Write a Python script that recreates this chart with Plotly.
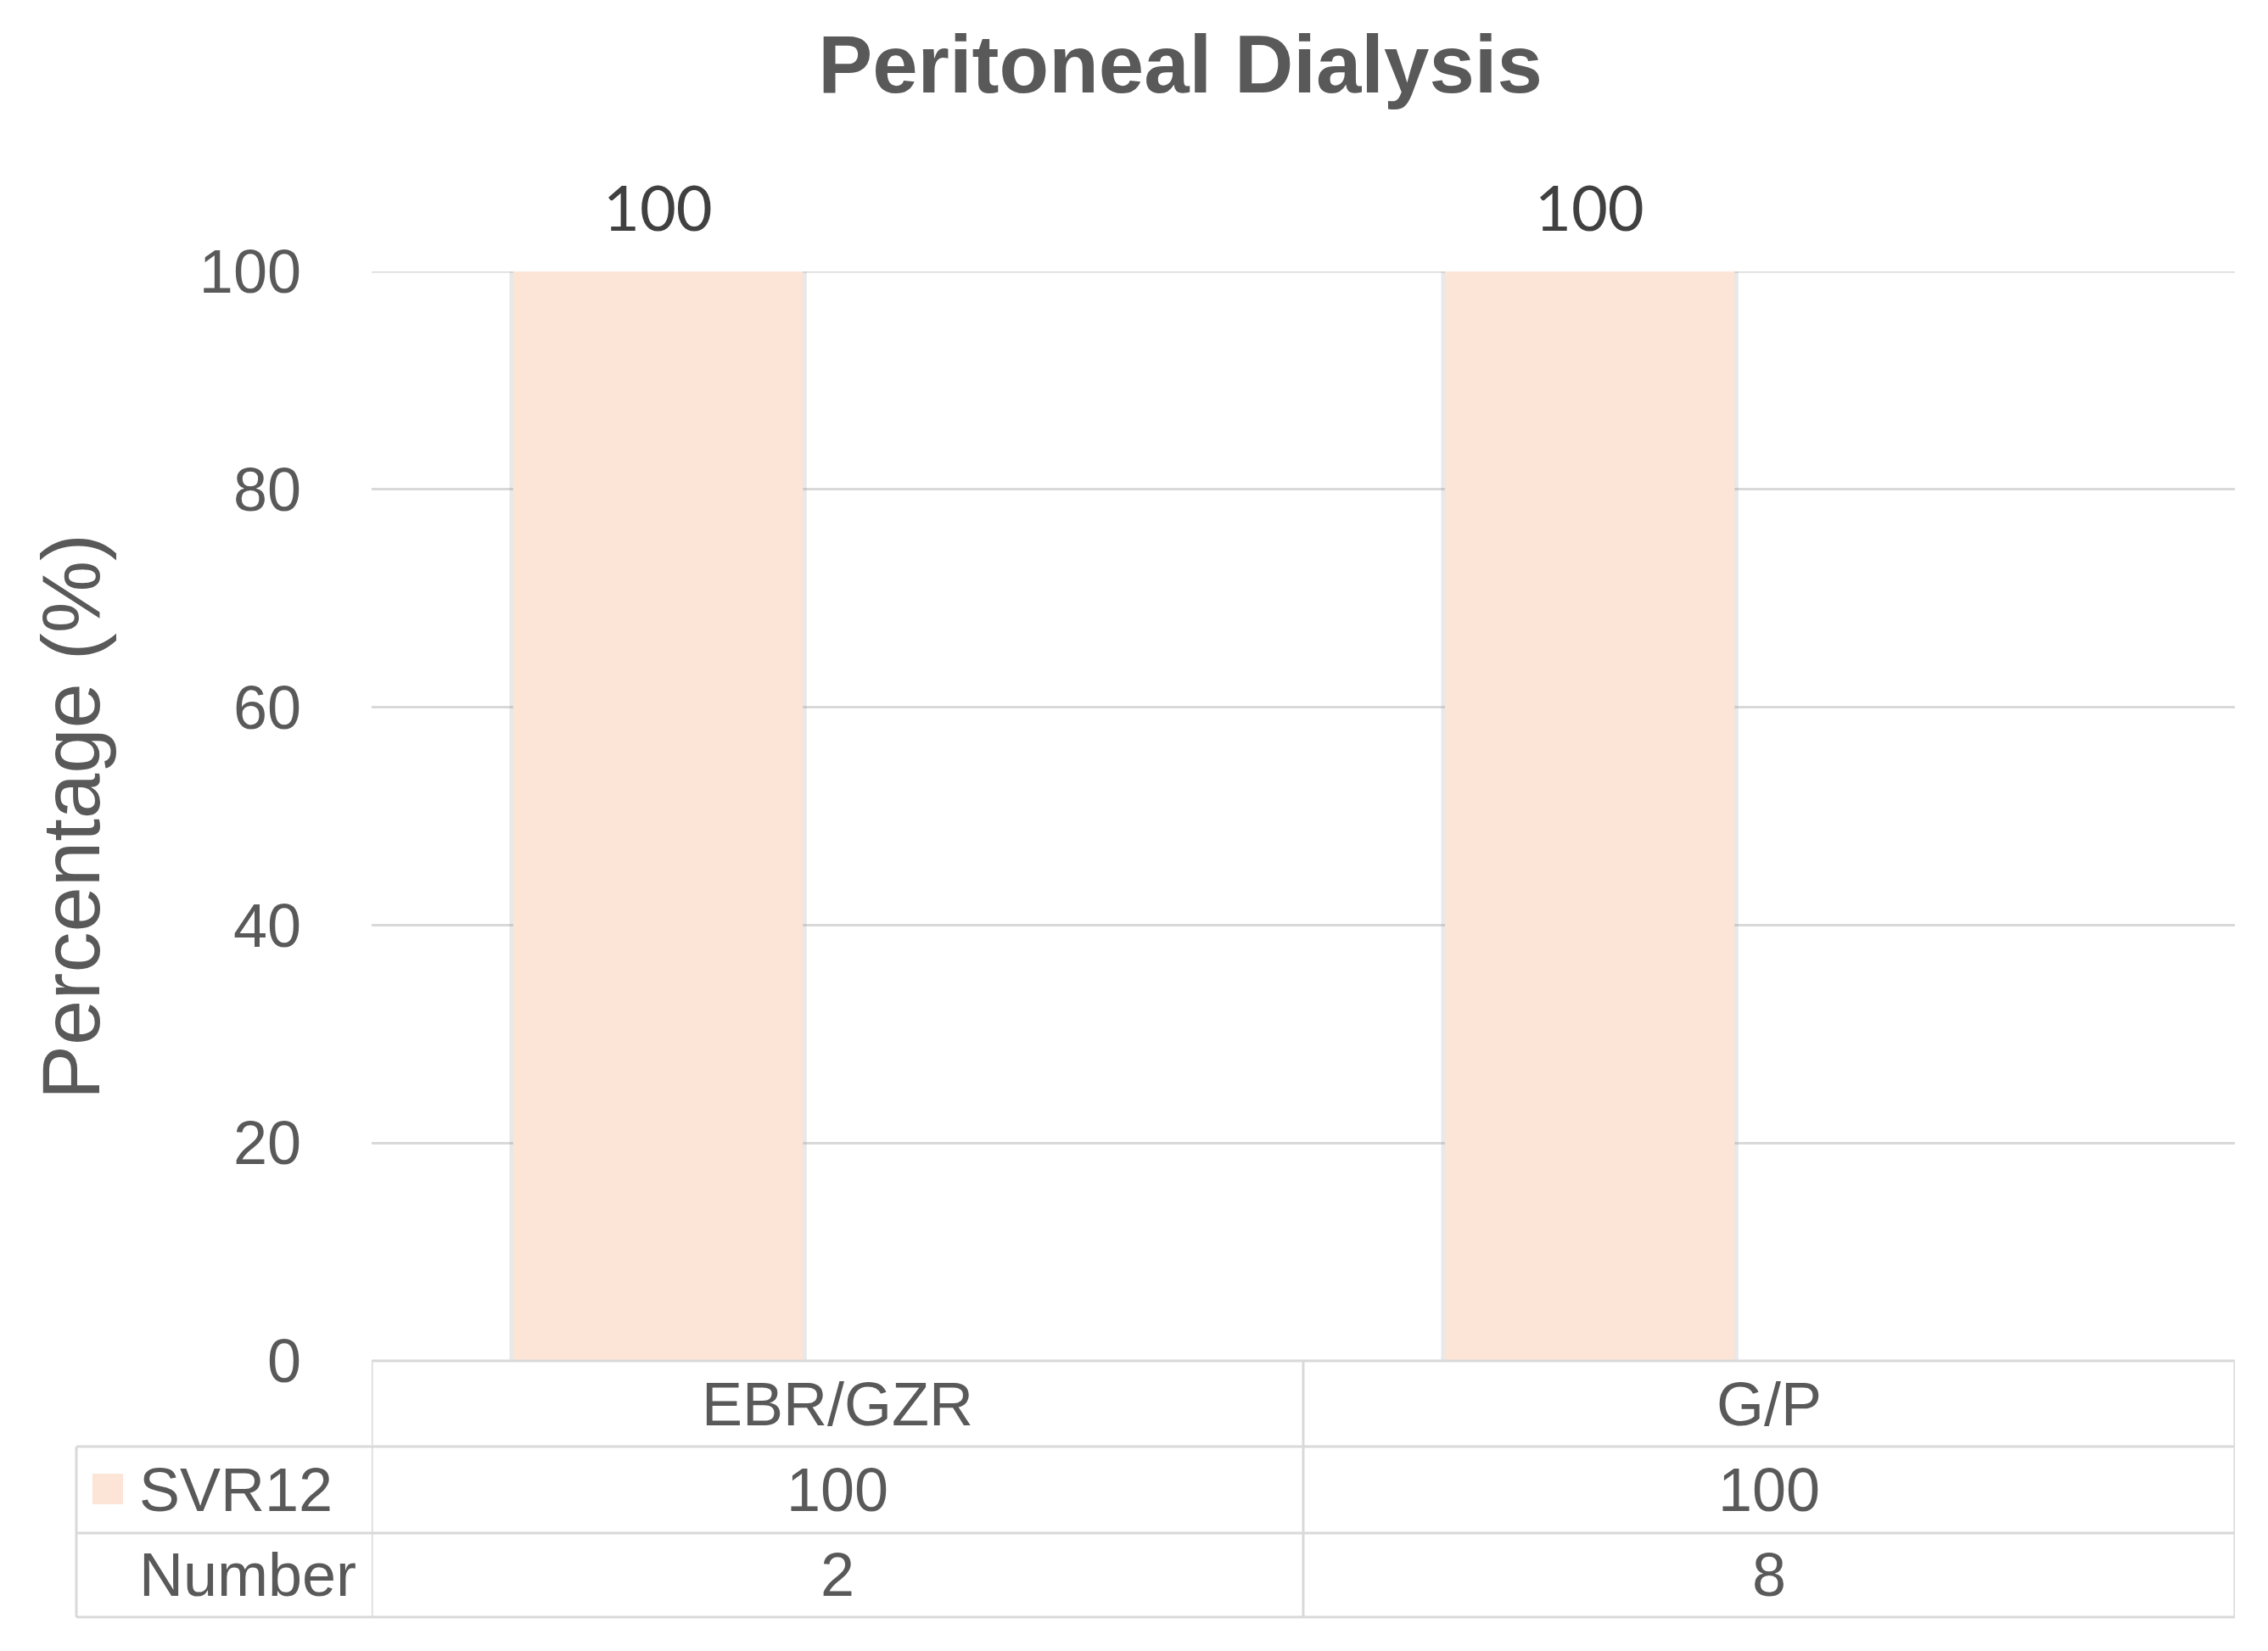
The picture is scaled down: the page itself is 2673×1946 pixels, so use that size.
import plotly.graph_objects as go

categories = ["EBR/GZR", "G/P"]
svr12 = [100, 100]
number = [2, 8]
yticks = [0, 20, 40, 60, 80, 100]

W, H = 2673, 1946
ml, mr, mt, mb = 438, 39, 320, 342
pw, ph = W - ml - mr, H - mt - mb

def py(px):  # pixel y -> paper y
    return (H - mb - px) / ph

def pxx(px):  # pixel x -> paper x
    return (px - ml) / pw

grey = "#595959"
line_c = "#d9d9d9"
bar_c = "#fce4d6"
FONT = "Liberation Sans, Arial, sans-serif"
TS = 72

BAR_OFF = -0.348
BAR_W = 0.311
SH = 0.004
bar_center = BAR_OFF + BAR_W / 2

fig = go.Figure()
# soft shadow behind bars
fig.add_trace(go.Bar(
    x=categories, y=svr12, width=BAR_W + 2 * SH, offset=BAR_OFF - SH,
    marker=dict(color="rgba(150,150,150,0.22)", line=dict(width=0)),
    showlegend=False, hoverinfo="skip",
))
fig.add_trace(go.Bar(
    x=categories, y=svr12, width=BAR_W, offset=BAR_OFF,
    marker=dict(color=bar_c, line=dict(width=0)),
    name="SVR12", showlegend=False,
))

shapes = []
shapes.append(dict(type="line", xref="paper", yref="y", x0=0, x1=1, y0=100, y1=100,
                   line=dict(color=line_c, width=3), layer="below"))
row_y = [py(1705), py(1807), py(1906)]
left_x = pxx(90)
shapes.append(dict(type="line", xref="paper", yref="paper", x0=0, x1=1, y0=0, y1=0,
                   line=dict(color=line_c, width=3)))
for yy in row_y:
    shapes.append(dict(type="line", xref="paper", yref="paper", x0=left_x, x1=1, y0=yy, y1=yy,
                       line=dict(color=line_c, width=3)))
for xx in [-0.5, 0.5, 1.5]:
    shapes.append(dict(type="line", xref="x", yref="paper", x0=xx, x1=xx, y0=0, y1=row_y[-1],
                       line=dict(color=line_c, width=3)))
shapes.append(dict(type="line", xref="paper", yref="paper", x0=left_x, x1=left_x, y0=row_y[0], y1=row_y[-1],
                   line=dict(color=line_c, width=3)))
shapes.append(dict(type="rect", xref="paper", yref="paper", x0=pxx(109), x1=pxx(145),
                   y0=py(1773), y1=py(1737), fillcolor=bar_c, line=dict(width=0)))

annotations = []
for i, v in enumerate(svr12):
    annotations.append(dict(x=i + bar_center, y=v, xref="x", yref="y", text=str(v), showarrow=False,
                            yanchor="bottom", yshift=30,
                            font=dict(family="Lato, Open Sans, sans-serif", size=74, color="#404040")))
for c in categories:
    annotations.append(dict(x=c, y=py(1655), xref="x", yref="paper", text=c, showarrow=False,
                            yanchor="middle", font=dict(family=FONT, size=TS, color=grey)))
for c, v in zip(categories, svr12):
    annotations.append(dict(x=c, y=py(1756), xref="x", yref="paper", text=str(v), showarrow=False,
                            yanchor="middle", font=dict(family=FONT, size=TS, color=grey)))
for c, v in zip(categories, number):
    annotations.append(dict(x=c, y=py(1856), xref="x", yref="paper", text=str(v), showarrow=False,
                            yanchor="middle", font=dict(family=FONT, size=TS, color=grey)))
annotations.append(dict(x=pxx(162), y=py(1756), xref="paper", yref="paper", text="SVR12", showarrow=False,
                        xanchor="left", yanchor="middle", font=dict(family=FONT, size=TS, color=grey)))
annotations.append(dict(x=pxx(162), y=py(1856), xref="paper", yref="paper", text="Number", showarrow=False,
                        xanchor="left", yanchor="middle", font=dict(family=FONT, size=TS, color=grey)))
annotations.append(dict(x=pxx(83), y=py(963), xref="paper", yref="paper", text="Percentage (%)",
                        showarrow=False, textangle=-90, xanchor="center", yanchor="middle",
                        font=dict(family=FONT, size=96, color=grey)))

fig.update_layout(
    width=W, height=H,
    margin=dict(l=ml, r=mr, t=mt, b=mb, autoexpand=False),
    paper_bgcolor="white", plot_bgcolor="white",
    barmode="overlay",
    title=dict(text="<b>Peritoneal Dialysis</b>", xref="container", x=1391 / W, xanchor="center",
               yref="container", y=1 - 75 / H, yanchor="middle",
               font=dict(family=FONT, size=96, color=grey)),
    xaxis=dict(range=[-0.5, 1.5], showticklabels=False, showgrid=False, zeroline=False,
               showline=False, ticks=""),
    yaxis=dict(range=[0, 100], tickvals=yticks, showgrid=True, gridcolor=line_c, gridwidth=3,
               zeroline=False, showline=False, ticks="", ticklabelstandoff=82,
               tickfont=dict(family=FONT, size=TS, color=grey)),
    shapes=shapes, annotations=annotations,
)

fig.write_html("out.html", config={"displayModeBar": False},
               post_script="document.body.style.margin='0';document.body.style.overflow='hidden';")
